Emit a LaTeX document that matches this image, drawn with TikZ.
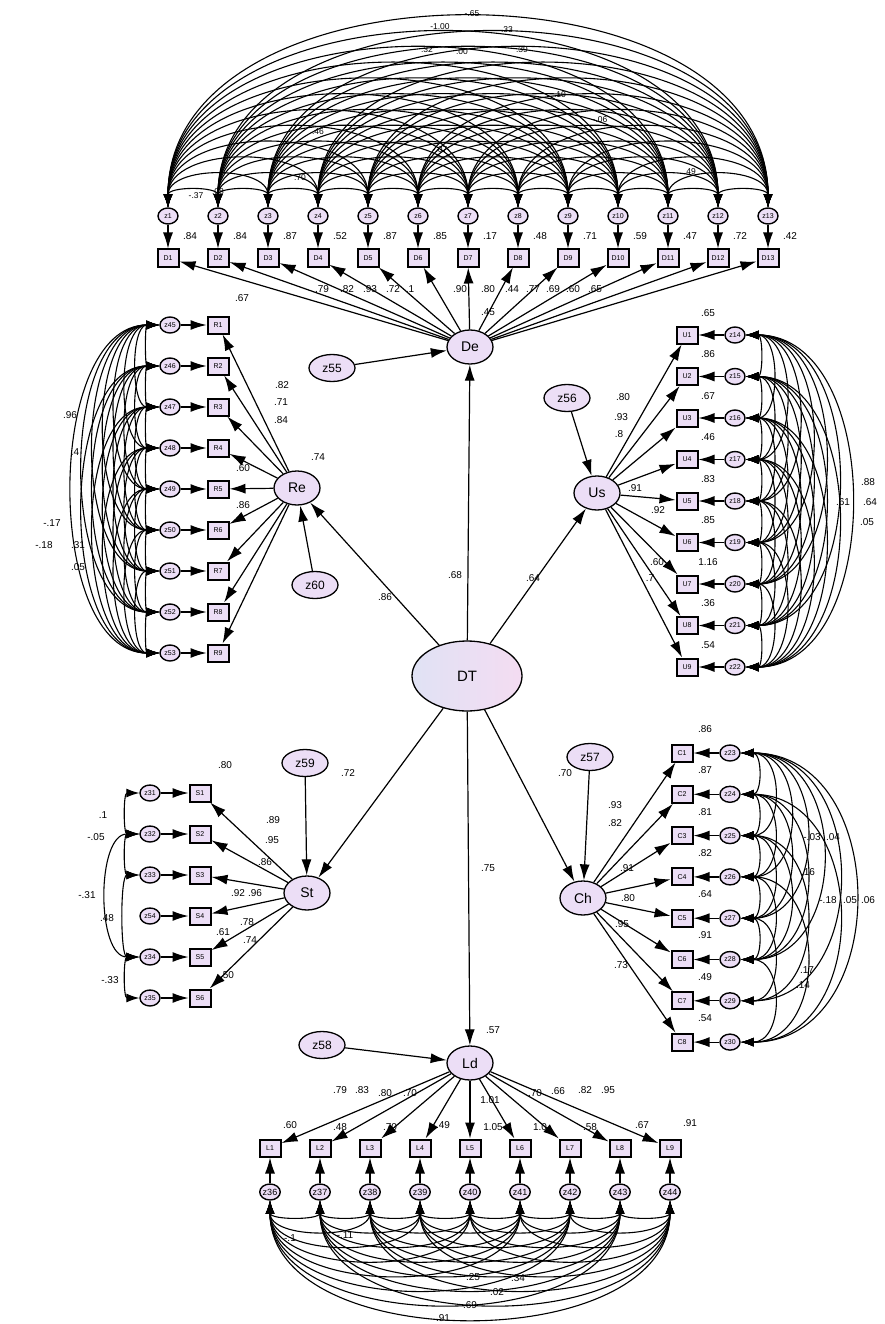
\documentclass[tikz,border=0pt]{standalone}
\usepackage{fontspec}
\setmainfont{Liberation Sans}
\usetikzlibrary{arrows.meta,shapes.geometric}
\definecolor{lav}{RGB}{236,222,246}
\definecolor{dtl}{RGB}{224,226,244}
\definecolor{dtr}{RGB}{244,220,242}
\pgfdeclarelayer{bg}
\pgfsetlayers{bg,main}
\begin{document}
\begin{tikzpicture}[x=1pt,y=1pt,
 lat/.style={ellipse,draw,line width=1.3pt,fill=lav,minimum width=46pt,minimum height=34pt,inner sep=0pt,font=\fontsize{14}{14}\selectfont},
 dist/.style={ellipse,draw,line width=1.3pt,fill=lav,minimum width=46pt,minimum height=27pt,inner sep=0pt,font=\fontsize{12}{12}\selectfont},
 obs/.style={rectangle,draw,line width=2pt,fill=lav,minimum width=21pt,minimum height=17pt,inner sep=0.5pt,font=\fontsize{7}{7}\selectfont},
 err/.style={ellipse,draw,line width=1.4pt,fill=lav,minimum width=20pt,minimum height=16pt,inner sep=0pt,font=\fontsize{7}{7}\selectfont},
 reg/.style={-{Latex[length=16pt,width=10pt]},line width=1.2pt},
 cov/.style={{Latex[length=13pt,width=9pt]}-{Latex[length=13pt,width=9pt]},line width=1.1pt},
 lab/.style={font=\fontsize{10}{10}\selectfont,inner sep=0pt},
]
\useasboundingbox (0,0) rectangle (884,-1324);

% ---------- latent variables ----------
\node[ellipse,draw,line width=1.3pt,left color=dtl,right color=dtr,minimum width=110pt,minimum height=70pt,inner sep=0pt,font=\fontsize{15}{15}\selectfont] (DT) at (467,-676) {DT};
\node[lat] (De) at (470,-347) {De};
\node[lat] (Re) at (297,-488) {Re};
\node[lat] (Us) at (597,-493) {Us};
\node[lat] (St) at (307,-893) {St};
\node[lat] (Ch) at (583,-898) {Ch};
\node[lat] (Ld) at (470,-1063) {Ld};
\node[dist] (z55) at (332,-368) {z55};
\node[dist] (z56) at (567,-398) {z56};
\node[dist] (z57) at (590,-757) {z57};
\node[dist] (z58) at (322,-1045) {z58};
\node[dist] (z59) at (305,-763) {z59};
\node[dist] (z60) at (315,-585) {z60};

% ---------- indicators and errors ----------
\foreach \i in {1,...,13}{
  \pgfmathsetmacro\xx{168+50*(\i-1)}
  \node[obs] (D\i) at (\xx,-258) {D\i};
  \node[err] (eD\i) at (\xx,-216) {z\i};
}
\foreach \i in {1,...,9}{
  \pgfmathsetmacro\yy{-(325+41*(\i-1))}
  \pgfmathtruncatemacro\zz{44+\i}
  \node[obs] (R\i) at (218,\yy) {R\i};
  \node[err] (eR\i) at (170,\yy) {z\zz};
}
\foreach \i in {1,...,9}{
  \pgfmathsetmacro\yy{-(335+41.5*(\i-1))}
  \pgfmathtruncatemacro\zz{13+\i}
  \node[obs] (U\i) at (687,\yy) {U\i};
  \node[err] (eU\i) at (735,\yy) {z\zz};
}
\foreach \i in {1,...,8}{
  \pgfmathsetmacro\yy{-(753+41.3*(\i-1))}
  \pgfmathtruncatemacro\zz{22+\i}
  \node[obs] (C\i) at (682,\yy) {C\i};
  \node[err] (eC\i) at (730,\yy) {z\zz};
}
\foreach \i/\zz in {1/31,2/32,3/33,4/54,5/34,6/35}{
  \pgfmathsetmacro\yy{-(793+41*(\i-1))}
  \node[obs] (S\i) at (200,\yy) {S\i};
  \node[err] (eS\i) at (150,\yy) {z\zz};
}
\foreach \i in {1,...,9}{
  \pgfmathsetmacro\xx{270+50*(\i-1)}
  \pgfmathtruncatemacro\zz{35+\i}
  \node[obs] (L\i) at (\xx,-1148) {L\i};
  \node[err,font=\fontsize{9}{9}\selectfont] (eL\i) at (\xx,-1192) {z\zz};
}

% ---------- connectors ----------
\begin{pgfonlayer}{bg}
\fill[white] (0,0) rectangle (884,-1324);
\foreach \t in {De,Re,Us,St,Ch,Ld}{\draw[reg] (DT) -- (\t);}
\draw[reg] (z55) -- (De);
\draw[reg] (z56) -- (Us);
\draw[reg] (z57) -- (Ch);
\draw[reg] (z58) -- (Ld);
\draw[reg] (z59) -- (St);
\draw[reg] (z60) -- (Re);
\foreach \i in {1,...,13}{\draw[reg] (De) -- (D\i); \draw[reg] (eD\i) -- (D\i);}
\foreach \i in {1,...,9}{\draw[reg] (Re) -- (R\i); \draw[reg] (eR\i) -- (R\i);}
\foreach \i in {1,...,9}{\draw[reg] (Us) -- (U\i); \draw[reg] (eU\i) -- (U\i);}
\foreach \i in {1,...,8}{\draw[reg] (Ch) -- (C\i); \draw[reg] (eC\i) -- (C\i);}
\foreach \i in {1,...,6}{\draw[reg] (St) -- (S\i); \draw[reg] (eS\i) -- (S\i);}
\foreach \i in {1,...,9}{\draw[reg] (Ld) -- (L\i); \draw[reg] (eL\i) -- (L\i);}
% covariances
\foreach \i in {1,...,12}{\pgfmathtruncatemacro\a{\i+1}
  \foreach \j in {\a,...,13}{\draw[cov] (eD\i) to[out=90,in=90,looseness=1.08] (eD\j);}}
\foreach \i in {1,...,8}{\pgfmathtruncatemacro\a{\i+1}
  \foreach \j in {\a,...,9}{\draw[cov] (eR\i) to[out=180,in=180,looseness=0.9] (eR\j);}}
\foreach \i in {1,...,8}{\pgfmathtruncatemacro\a{\i+1}
  \foreach \j in {\a,...,9}{\draw[cov] (eU\i) to[out=0,in=0,looseness=1.08] (eU\j);}}
\foreach \i in {1,...,8}{\pgfmathtruncatemacro\a{\i+1}
  \foreach \j in {\a,...,9}{\draw[cov] (eL\i) to[out=270,in=270,looseness=1.0] (eL\j);}}
\foreach \i/\j in {1/2,1/3,1/4,1/5,1/6,1/7,1/8,2/3,2/4,2/5,2/6,2/8,3/4,3/5,3/6,3/7,4/5,4/6,4/8,5/6,5/7,6/8}
  {\draw[cov] (eC\i) to[out=0,in=0,looseness=1.35] (eC\j);}
\draw[cov] (eS1) to[out=180,in=180,looseness=1.0] (eS2);
\draw[cov] (eS2) to[out=180,in=180,looseness=1.0] (eS3);
\draw[cov] (eS2) to[out=180,in=180,looseness=0.9] (eS5);
\draw[cov] (eS3) to[out=180,in=180,looseness=0.6] (eS5);
\draw[cov] (eS5) to[out=180,in=180,looseness=1.0] (eS6);
\end{pgfonlayer}

% ---------- labels ----------
\node[lab] at (455,-575) {.68};
\node[lab] at (385,-597) {.86};
\node[lab] at (533,-578) {.64};
\node[lab] at (348,-773) {.72};
\node[lab] at (565,-773) {.70};
\node[lab] at (488,-868) {.75};
\node[lab] at (493,-1030) {.57};
\node[lab] at (318,-457) {.74};
\node[lab] at (488,-312) {.45};
\node[lab] at (242,-298) {.67};
% De
\foreach \i/\v in {1/.84,2/.84,3/.87,4/.52,5/.87,6/.85,7/.17,8/.48,9/.71,10/.59,11/.47,12/.72,13/.42}
  {\node[lab] at ({168+50*(\i-1)+22},-236) {\v};}
\foreach \x/\v in {322/.79,347/.82,370/.93,393/.72,410/.1,460/.90,488/.80,512/.44,533/.77,553/.69,573/.60,595/.65}
  {\node[lab] at (\x,-289) {\v};}
\foreach \x/\y/\v in {472/14/-.65,440/27/-1.00,507/30/.33,427/50/.32,462/52/.00,522/50/.39,218/192/.08,196/196/-.37,300/178/.70,318/132/.46,440/150/-.07,690/172/.49,560/95/.10,600/120/-.06}
  {\node[lab,font=\fontsize{8.5}{8.5}\selectfont] at (\x,-\y) {\v};}
% Re
\foreach \x/\y/\v in {282/385/.82,281/402/.71,281/420/.84,243/468/.60,243/505/.86}
  {\node[lab] at (\x,-\y) {\v};}
\foreach \x/\y/\v in {70/415/.96,75/452/.4,52/523/-.17,44/545/-.18,78/545/.31,78/567/.05}
  {\node[lab] at (\x,-\y) {\v};}
% Us
\foreach \i/\v in {1/.65,2/.86,3/.67,4/.46,5/.83,6/.85,7/1.16,8/.36,9/.54}
  {\node[lab] at ({708},{-(335+41.5*(\i-1))+22}) {\v};}
\foreach \x/\y/\v in {623/397/.80,621/417/.93,619/434/.8,635/488/.91,658/510/.92,657/562/.60,650/578/.7,868/482/.88,870/502/.64,867/522/.05,843/502/.61}
  {\node[lab] at (\x,-\y) {\v};}
% Ch
\foreach \i/\v in {1/.86,2/.87,3/.81,4/.82,5/.64,6/.91,7/.49,8/.54}
  {\node[lab] at ({705},{-(753+41.3*(\i-1))+24}) {\v};}
\foreach \x/\y/\v in {615/805/.93,615/823/.82,627/868/.91,628/898/.80,622/924/.95,621/965/.73,812/837/-.03,833/837/.04,808/872/.16,828/900/-.18,850/900/.05,868/900/.06,807/970/.17,803/985/.14}
  {\node[lab] at (\x,-\y) {\v};}
% St
\foreach \x/\y/\v in {225/765/.80,273/820/.89,272/840/.95,265/862/.86,238/893/.92,255/893/.96,247/922/.78,223/932/.61,250/940/.74,227/975/.50,103/815/.1,96/837/-.05,87/895/-.31,107/918/.48,110/980/-.33}
  {\node[lab] at (\x,-\y) {\v};}
% Ld
\foreach \x/\y/\v in {340/1090/.79,362/1090/.83,385/1093/.80,410/1093/.70,490/1100/1.01,535/1093/.70,558/1091/.66,585/1090/.82,608/1090/.95,290/1125/.60,340/1127/.48,390/1127/.70,443/1125/.49,493/1127/1.05,540/1127/1.0,590/1127/.58,642/1125/.67,690/1123/.91,290/1238/-.1,345/1235/-.11,473/1277/.25,518/1278/.34,497/1292/.02,470/1305/.69,443/1318/.91}
  {\node[lab] at (\x,-\y) {\v};}
\end{tikzpicture}
\end{document}
